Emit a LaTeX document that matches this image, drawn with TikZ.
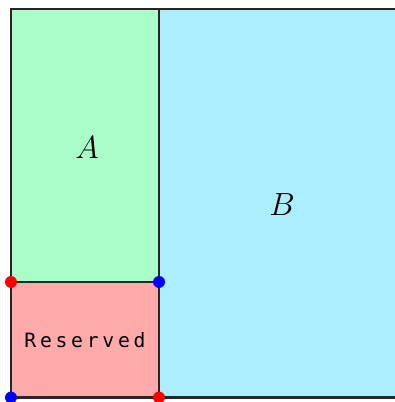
\RequirePackage{fix-cm}
\documentclass[tikz,border=0pt]{standalone}
\usepackage{fontspec}
\newfontfamily\monofont[LetterSpace=19]{DejaVu Sans Mono}
\begin{document}
\begin{tikzpicture}[x=1pt,y=1pt,
  region/.style={draw=black!85,line width=2.2pt},
  marker/.style={circle,inner sep=0pt,minimum size=12pt},
  lbl/.style={font=\fontsize{32}{38}\selectfont,inner sep=0pt}]
\useasboundingbox (0,0) rectangle (395,402);
\clip (0,0) rectangle (395,402);
% regions
\fill[fill={rgb,255:red,170;green,255;blue,200}] (11,120) rectangle (159,393);
\fill[fill={rgb,255:red,170;green,238;blue,255}] (159,4.5) rectangle (420,393);
\fill[fill={rgb,255:red,255;green,170;blue,170}] (11,4.5) rectangle (159,120);
\draw[region] (420,393) -- (11,393) -- (11,4.5) -- (420,4.5);
\draw[region] (159,393) -- (159,4.5);
\draw[region] (11,120) -- (159,120);
% labels
\node[lbl] (a) at (87,254.5) {$A$};
\node[lbl] (b) at (282,197.5) {$B$};
\node[font=\monofont\fontsize{19.7}{24}\selectfont,inner sep=0pt] (r) at (85,62) {Reserved};
% corner markers
\node[marker,fill=red] (p1) at (11,120) {};
\node[marker,fill=blue] (p2) at (159,120) {};
\node[marker,fill=blue] (p3) at (11,4.5) {};
\node[marker,fill=red] (p4) at (159,4.5) {};
\end{tikzpicture}
\end{document}
